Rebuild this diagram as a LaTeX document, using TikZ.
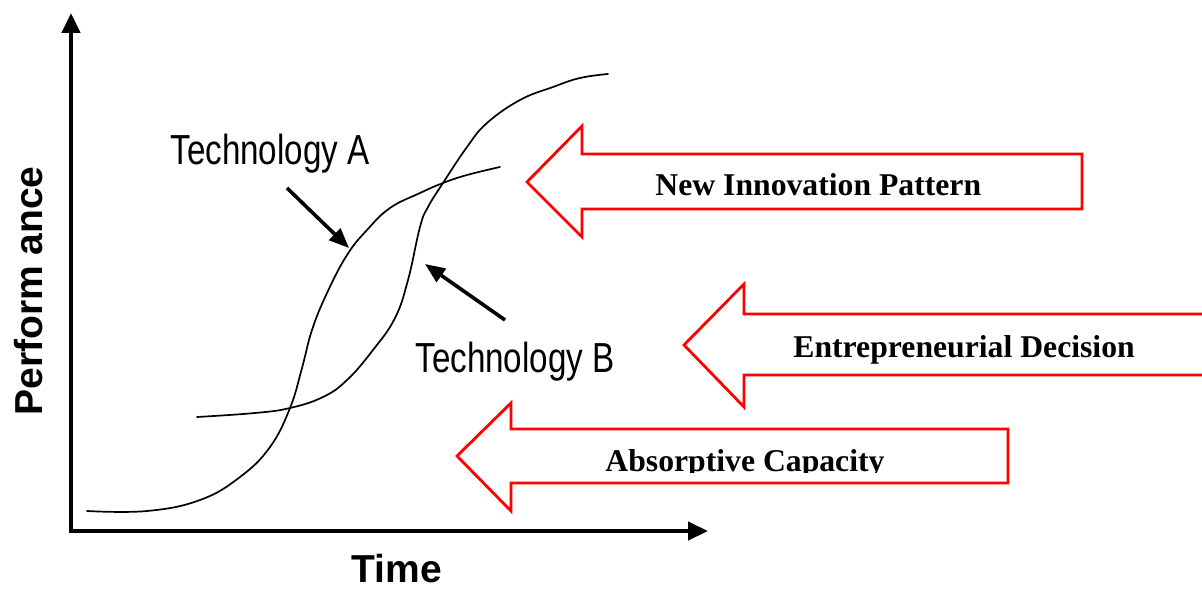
\documentclass[tikz,border=0pt]{standalone}
\usepackage{fontspec}
\setmainfont{Liberation Serif}
\newfontfamily\techfont[FakeStretch=0.79]{Liberation Sans}
\newfontfamily\axisfont{Liberation Sans}
\usetikzlibrary{arrows.meta}
\definecolor{pureRed}{RGB}{255,0,0}
\tikzset{
  axisline/.style={line width=2.2pt, -{Triangle[length=10pt,width=9pt]}},
  curveline/.style={line width=0.85pt, line join=round, line cap=round},
  pointer/.style={line width=1.8pt, -{Triangle[length=10pt,width=8pt]}},
  blockarrow/.style={draw=pureRed, line width=1.4pt, fill=white, line join=miter},
  bigtext/.style={inner sep=0pt, anchor=base west, font=\fontsize{15.85pt}{18pt}\selectfont\bfseries},
  techlabel/.style={inner sep=0pt, anchor=base west, font=\fontsize{21pt}{24pt}\techfont},
  axislabel/.style={inner sep=0pt, anchor=base, font=\fontsize{19.5pt}{23pt}\axisfont\bfseries}
}
\begin{document}
\begin{tikzpicture}[x=0.5pt,y=-0.5pt]
  \useasboundingbox (0,0) rectangle (1202,588);
  \clip (0,0) rectangle (1202,588);

  % axes
  \coordinate (origin) at (71,531);
  \coordinate (ytop) at (71,13);
  \coordinate (xend) at (708,531);
  \draw[axisline] (71,533) -- (ytop);
  \draw[axisline] (69,531) -- (xend);
  \node[axislabel, rotate=90] (perf) at (42,291) {Perform ance};
  \node[axislabel] (time) at (397,582) {Time};

  % technology A
  \draw[curveline] plot[smooth, tension=0.7] coordinates {
    (87,511) (147,511) (200,500) (240,477) (270,447) (290,408) (302,368)
    (312,330) (327,293) (347,255) (367,230) (390,208) (420,193) (443,183)
    (467,175) (500,167)};
  % technology B
  \draw[curveline] plot[smooth, tension=0.7] coordinates {
    (197,417) (255,413) (290,408) (323,397) (347,380) (373,350) (395,318)
    (408,280) (420,227) (428,207) (443,183) (467,147) (487,123) (520,100)
    (553,87) (580,78) (608,74)};

  % labels and pointers
  \node[techlabel] (techA) at (170,165) {Technology A};
  \node[techlabel] (techB) at (415,372) {Technology B};
  \coordinate (ptrAstart) at (287,188);
  \coordinate (ptrAend) at (349,248);
  \coordinate (ptrBstart) at (505,320);
  \coordinate (ptrBend) at (425,264);
  \draw[pointer] (ptrAstart) -- (ptrAend);
  \draw[pointer] (ptrBstart) -- (ptrBend);

  % block arrows
  \draw[blockarrow] (527,182) -- (582,126) -- (582,154) -- (1082,154)
    -- (1082,209) -- (582,209) -- (582,237) -- cycle;
  \node[bigtext] (innov) at (655,196) {New Innovation Pattern};

  \draw[blockarrow] (684,345) -- (744,284) -- (744,314) -- (1215,314)
    -- (1215,375) -- (744,375) -- (744,407) -- cycle;
  \node[bigtext] (entre) at (793,357) {Entrepreneurial Decision};

  \draw[blockarrow] (457,456) -- (511,403) -- (511,429) -- (1008,429)
    -- (1008,483) -- (511,483) -- (511,511) -- cycle;
  \begin{scope}
    \clip (0,0) rectangle (1202,472);
    \node[bigtext] (absorb) at (605,471) {Absorptive Capacity};
  \end{scope}
\end{tikzpicture}
\end{document}
